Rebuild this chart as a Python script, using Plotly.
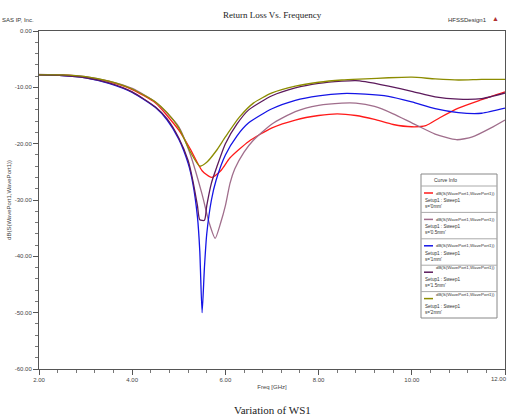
import plotly.graph_objects as go

# Return loss curves for the WS1 sweep (frequency in GHz, S11 in dB)
freq_s0 = [2, 2.5, 3, 3.5, 4, 4.5, 5, 5.25, 5.5, 5.7, 5.9, 6.1, 6.5, 7, 7.5, 8, 8.4, 8.8, 9.2, 9.6, 10, 10.3, 10.6, 11, 11.5, 12]
db_s0 = [-7.8, -7.8, -8.2, -9.0, -10.4, -12.8, -17.6, -21.0, -24.8, -26.0, -24.8, -22.5, -19.6, -17.2, -15.8, -15.0, -14.7, -15.0, -15.7, -16.6, -17.0, -16.8, -15.4, -13.7, -12.2, -10.8]

freq_s05 = [2, 2.5, 3, 3.5, 4, 4.5, 5, 5.25, 5.5, 5.65, 5.78, 5.9, 6.0, 6.1, 6.2, 6.4, 6.6, 7, 7.5, 8, 8.5, 8.8, 9.2, 9.6, 10, 10.5, 10.96, 11.3, 11.7, 12]
db_s05 = [-7.7, -7.8, -8.1, -8.9, -10.2, -12.6, -17.0, -22.0, -29.0, -34.0, -36.8, -34.0, -31.0, -27.0, -24.5, -21.5, -19.4, -16.5, -14.3, -13.2, -12.8, -12.8, -13.4, -14.7, -16.3, -18.3, -19.3, -18.8, -17.2, -15.8]

freq_s1 = [2, 2.5, 3, 3.5, 4, 4.5, 4.75, 5, 5.2, 5.3, 5.4, 5.45, 5.5, 5.55, 5.6, 5.7, 5.8, 6, 6.25, 6.5, 7, 7.5, 8, 8.5, 9, 9.5, 10, 10.5, 11, 11.5, 12]
db_s1 = [-7.8, -7.9, -8.3, -9.3, -10.9, -13.6, -15.8, -19.2, -23.5, -27.0, -33.0, -39.0, -50.0, -42.0, -36.0, -30.0, -26.5, -22.0, -18.6, -16.3, -13.8, -12.3, -11.5, -11.1, -11.2, -11.6, -12.6, -13.8, -14.5, -14.6, -13.7]

freq_s15 = [2, 2.5, 3, 3.5, 4, 4.5, 4.75, 5, 5.2, 5.3, 5.4, 5.45, 5.55, 5.6, 5.7, 5.8, 6, 6.25, 6.5, 7, 7.5, 8, 8.5, 8.8, 9, 9.5, 10, 10.5, 11, 11.5, 12]
db_s15 = [-7.8, -7.9, -8.3, -9.2, -10.8, -13.5, -15.6, -19.0, -23.0, -26.5, -31.0, -33.5, -33.6, -31.0, -27.0, -24.5, -20.0, -16.5, -14.0, -11.5, -10.1, -9.3, -8.9, -8.8, -9.0, -9.8, -10.7, -11.7, -12.1, -12.0, -11.0]

freq_s2 = [2, 2.5, 3, 3.5, 4, 4.5, 4.75, 5, 5.25, 5.45, 5.6, 5.8, 6, 6.3, 6.6, 7, 7.5, 8, 8.5, 9, 9.5, 10, 10.5, 11, 11.5, 12]
db_s2 = [-7.8, -7.8, -8.1, -8.9, -10.3, -12.6, -14.5, -17.2, -21.5, -24.0, -23.3, -21.3, -18.8, -15.3, -12.8, -11.0, -9.8, -9.1, -8.7, -8.5, -8.3, -8.2, -8.5, -8.7, -8.6, -8.6]

sweep_labels = ["s='0mm'", "s='0.5mm'", "s='1mm'", "s='1.5mm'", "s='2mm'"]
curve_name = "dB(S(WavePort1,WavePort1))"
setup_name = "Setup1 : Sweep1"

series = [
    (freq_s0, db_s0, "#ff1a1a"),
    (freq_s05, db_s05, "#a06e8c"),
    (freq_s1, db_s1, "#1414e6"),
    (freq_s15, db_s15, "#5c1a5c"),
    (freq_s2, db_s2, "#8c8c00"),
]

x_ticks = [2, 4, 6, 8, 10, 12]
y_ticks = [0, -10, -20, -30, -40, -50, -60]

narrow = "Liberation Sans Narrow, Liberation Sans, Arial"
serif = "Liberation Serif, Times New Roman, serif"

W, H = 508, 417
ML, MR, MT, MB = 39, 3, 31, 48
PW, PH = W - ML - MR, H - MT - MB


def px(x):
    return (x - ML) / PW


def py(y):
    return (H - MB - y) / PH


fig = go.Figure()
for (fx, fy, color), label in zip(series, sweep_labels):
    fig.add_trace(go.Scatter(
        x=fx, y=fy, mode="lines",
        line=dict(color=color, width=1.3, shape="spline", smoothing=0.6),
        name=label, showlegend=False,
    ))

axis_common = dict(
    showgrid=False, zeroline=False, showline=True, mirror=True,
    linecolor="#555555", linewidth=1, automargin=False,
    ticks="outside", ticklen=5, tickcolor="#555555", tickwidth=1,
    tickfont=dict(family=narrow, size=6, color="#444444"),
)

# the last frequency label sits at the page edge, so it is set right-aligned below
x_ticktext = [f"{v:.2f}" for v in x_ticks[:-1]] + [""]
fig.update_xaxes(
    range=[2, 12], tickvals=x_ticks, ticktext=x_ticktext,
    minor=dict(dtick=0.4, ticklen=3, tickcolor="#777777", ticks="outside"),
    title=dict(text="Freq [GHz]", font=dict(family=narrow, size=6, color="#444444"), standoff=2),
    **axis_common,
)
fig.update_yaxes(
    range=[-60, 0], tickvals=y_ticks, ticktext=[f"{v:.2f}" for v in y_ticks],
    minor=dict(dtick=2, ticklen=3, tickcolor="#777777", ticks="outside"),
    title=dict(text="dB(S(WavePort1,WavePort1))", font=dict(family=narrow, size=6, color="#444444"), standoff=2),
    **axis_common,
)

# "Curve Info" box in the lower right of the plot
box_l, box_r, box_t, box_b = 421, 497, 174, 318
head_h = 12
entry_h = (box_b - box_t - head_h) / len(series)
shapes = [dict(type="rect", xref="paper", yref="paper",
               x0=px(box_l), x1=px(box_r), y0=py(box_b), y1=py(box_t),
               line=dict(color="#888888", width=1), fillcolor="white", layer="above")]
annotations = [dict(text="Curve Info", x=px((box_l + box_r) / 2), y=py(box_t + head_h / 2),
                    xref="paper", yref="paper", showarrow=False,
                    font=dict(family=narrow, size=5, color="#333333"))]
for i, ((fx, fy, color), label) in enumerate(zip(series, sweep_labels)):
    top = box_t + head_h + i * entry_h
    shapes.append(dict(type="line", xref="paper", yref="paper",
                       x0=px(box_l), x1=px(box_r), y0=py(top), y1=py(top),
                       line=dict(color="#aaaaaa", width=1), layer="above"))
    ly = top + 7
    shapes.append(dict(type="line", xref="paper", yref="paper",
                       x0=px(box_l + 3), x1=px(box_l + 12), y0=py(ly), y1=py(ly),
                       line=dict(color=color, width=1.5), layer="above"))
    annotations.append(dict(text=curve_name, x=px(box_l + 13), y=py(ly),
                            xref="paper", yref="paper", xanchor="left", showarrow=False,
                            font=dict(family=narrow, size=4.4, color="#333333")))
    annotations.append(dict(text=setup_name + "<br>" + label, x=px(box_l + 2), y=py(ly + 3),
                            xref="paper", yref="paper", xanchor="left", yanchor="top",
                            align="left", showarrow=False,
                            font=dict(family=narrow, size=4.6, color="#333333")))

annotations += [
    dict(text="12.00", x=1, y=0, xref="paper", yref="paper", xanchor="right", yanchor="top",
         xshift=4, yshift=-5, showarrow=False,
         font=dict(family=narrow, size=6, color="#444444")),
    dict(text="Return Loss Vs. Frequency", x=0.5, y=1, xref="paper", yref="paper",
         yanchor="bottom", yshift=9, showarrow=False,
         font=dict(family=serif, size=9, color="#222222")),
    dict(text="SAS IP, Inc.", x=0, y=1, xref="paper", yref="paper", xanchor="right",
         yanchor="bottom", xshift=-3, yshift=6, showarrow=False,
         font=dict(family=narrow, size=6, color="#333333")),
    dict(text="HFSSDesign1", x=1, y=1, xref="paper", yref="paper", xanchor="right",
         yanchor="bottom", xshift=-16, yshift=6, showarrow=False,
         font=dict(family=narrow, size=6, color="#333333")),
    dict(text="▲", x=1, y=1, xref="paper", yref="paper", xanchor="right",
         yanchor="bottom", xshift=-4, yshift=6, showarrow=False,
         font=dict(size=7, color="#b03030")),
    dict(text="Variation of WS1", x=0.5, y=0, xref="paper", yref="paper",
         yanchor="top", yshift=-33, showarrow=False,
         font=dict(family=serif, size=11, color="#222222")),
]

fig.update_layout(
    width=W, height=H,
    margin=dict(l=ML, r=MR, t=MT, b=MB),
    paper_bgcolor="white", plot_bgcolor="white",
    showlegend=False,
    shapes=shapes,
    annotations=annotations,
)

fig.write_html("out.html")
